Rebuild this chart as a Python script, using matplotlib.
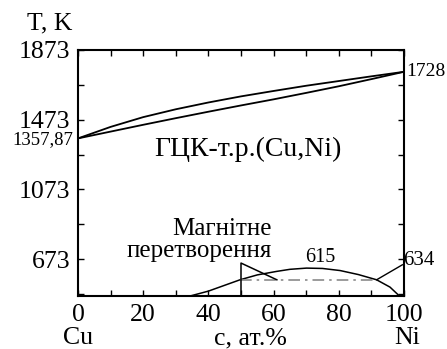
import matplotlib
matplotlib.use("Agg")
from matplotlib import pyplot as plt
from matplotlib.transforms import blended_transform_factory

plt.rcParams['font.family'] = ['Liberation Serif', 'DejaVu Serif']

# liquidus / solidus (c in at.% Ni, T in K)
liq_c = [0, 10, 20, 30, 40, 50, 60, 70, 80, 90, 100]
liq_T = [1366, 1432, 1488, 1533, 1572, 1607, 1638, 1668, 1695, 1722, 1748]
sol_c = [0, 10, 20, 30, 40, 50, 60, 70, 80, 90, 100]
sol_T = [1366, 1405, 1444, 1482, 1519, 1555, 1590, 1627, 1665, 1706, 1748]

# magnetic transformation dome
mag_c = [34.4, 40, 49.7, 55, 60.9, 65, 70.1, 75, 80.4, 86, 91.6, 95.7, 98.6]
mag_T = [462, 490, 555, 583, 603, 615, 622, 620, 608, 585, 555, 513, 462]

# dash-dot line and leader lines
dd_c = [49.7, 91.6]
dd_T = [555, 555]
flag_c = [50, 50, 61]
flag_T = [462, 651, 555]
lead_c = [91.6, 99.5]
lead_T = [555, 641]

yticks = [473, 673, 873, 1073, 1273, 1473, 1673, 1873]
ylabels = ['', '673', '', '1073', '', '1473', '', '1873']
xticks = [0, 10, 20, 30, 40, 50, 60, 70, 80, 90, 100]
xlabels = ['0', '', '20', '', '40', '', '60', '', '80', '', '100']

fig = plt.figure(figsize=(4.47, 3.49), dpi=100)
ax = fig.add_axes([78/447, 1-296/349, 326/447, 246/349])

ax.plot(liq_c, liq_T, color='black', lw=1.3)
ax.plot(sol_c, sol_T, color='black', lw=1.3)
ax.plot(mag_c, mag_T, color='black', lw=1.1)
ax.plot(dd_c, dd_T, color='#8a8a8a', lw=1.2, linestyle='-.', dashes=(7, 3, 1.5, 3))
ax.plot(flag_c, flag_T, color='black', lw=1.1)
ax.plot(lead_c, lead_T, color='black', lw=1.0)

ax.set_xlim(0, 100)
ax.set_ylim(462, 1873)
ax.set_xticks(xticks)
ax.set_xticklabels(xlabels)
ax.set_yticks(yticks)
ax.set_yticklabels(ylabels)
ax.tick_params(direction='in', top=True, right=True, length=4, width=1,
               labelsize=18.5, pad=5.5)
for s in ax.spines.values():
    s.set_linewidth(1.5)

tr = blended_transform_factory(ax.transData, ax.transAxes)
ax.text(0, -0.172, 'Cu', transform=tr, ha='center', va='center', fontsize=18.5)
ax.text(53, -0.172, 'c, ат.%', transform=tr, ha='center', va='center', fontsize=18.5)
ax.text(101, -0.172, 'Ni', transform=tr, ha='center', va='center', fontsize=18.5)
ax.text(-0.086, 1.106, 'T, K', transform=ax.transAxes, ha='center', va='center', fontsize=18.5)

ax.text(-1.5, 1357.87, '1357,87', ha='right', va='center', fontsize=13.5, clip_on=False)
ax.text(100.6, 1748, '1728', ha='left', va='center', fontsize=14, clip_on=False)
ax.text(99.7, 664, '634', ha='left', va='center', fontsize=15, clip_on=False)
ax.text(74.2, 681, '615', ha='center', va='center', fontsize=14.5)

ax.text(52, 1300, 'ГЦК-т.р.(Cu,Ni)', ha='center', va='center', fontsize=20)
ax.text(59.5, 845, 'Магнітне', ha='right', va='center', fontsize=18)
ax.text(59.5, 720, 'перетворення', ha='right', va='center', fontsize=18)

fig.savefig('out.png', dpi=100)
